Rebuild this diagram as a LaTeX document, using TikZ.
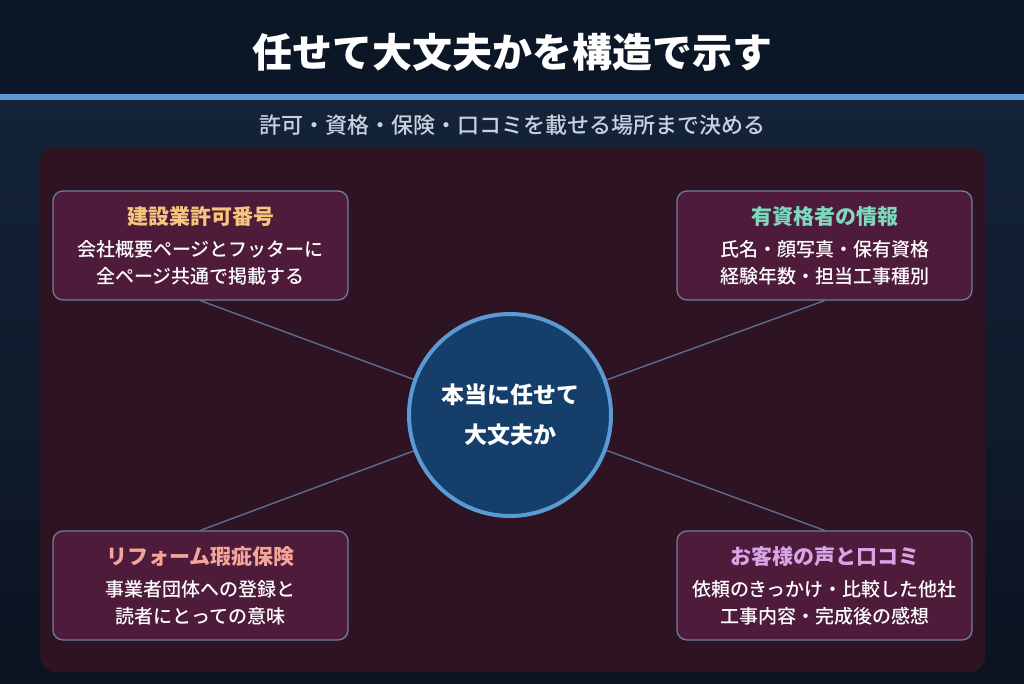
\documentclass[tikz,border=0pt]{standalone}
\usepackage{fontspec}
\setmainfont{Noto Sans CJK JP}
\newfontfamily\medfont{Noto Sans CJK JP Medium}
\usetikzlibrary{backgrounds}
\pgfdeclarelayer{lines}
\pgfsetlayers{background,lines,main}
\definecolor{hdr}{HTML}{0B1626}
\definecolor{stripe}{HTML}{5B9BD5}
\definecolor{bgtop}{HTML}{142339}
\definecolor{bgbot}{HTML}{0B1320}
\definecolor{panel}{HTML}{2E1423}
\definecolor{boxfill}{HTML}{4F1B3B}
\definecolor{boxline}{HTML}{6E7E9A}
\definecolor{conn}{HTML}{5A6F90}
\definecolor{hubfill}{HTML}{163E6B}
\definecolor{subtxt}{HTML}{C7D2DE}
\definecolor{torange}{HTML}{F6C57E}
\definecolor{tteal}{HTML}{7ED8BE}
\definecolor{tsalmon}{HTML}{F4A599}
\definecolor{tlav}{HTML}{D6A5E6}
\tikzset{
  infobox/.style={draw=boxline, line width=1.3pt, fill=boxfill, rounded corners=10pt,
    minimum width=295pt, minimum height=109pt, align=center, text=white,
    font=\medfont\fontsize{19}{27}\selectfont, inner sep=0pt},
  hub/.style={circle, draw=stripe, line width=4pt, fill=hubfill, minimum size=202pt,
    align=center, text=white, font=\bfseries\fontsize{23}{40}\selectfont, inner sep=0pt},
  connector/.style={draw=conn, line width=1.4pt},
}
\newcommand{\btitle}[2]{{\normalfont\bfseries\fontsize{21}{21}\selectfont\color{#1}#2}\\[5pt]}
\begin{document}
\begin{tikzpicture}[x=1pt,y=-1pt]
\useasboundingbox (0,0) rectangle (1024,683);
\begin{pgfonlayer}{background}
  \shade[top color=bgtop, bottom color=bgbot] (0,99) rectangle (1024,683);
  \fill[hdr] (0,0) rectangle (1024,94);
  \fill[stripe] (0,94) rectangle (1024,100);
  \fill[panel, rounded corners=16pt] (40,147) rectangle (985,672);
\end{pgfonlayer}
\node[text=white, font=\bfseries\fontsize{40}{40}\selectfont] (title) at (512,52) {任せて大文夫かを構造で示す};
\node[text=subtxt, font=\medfont\fontsize{22}{22}\selectfont] (subtitle) at (512,125) {許可・資格・保険・口コミを載せる場所まで決める};
\node[hub] (hub) at (510,415) {本当に任せて\\大文夫か};
\node[infobox] (tl) at (200.5,245.5) {\btitle{torange}{建設業許可番号}会社概要ページとフッターに\\全ページ共通で掲載する};
\node[infobox] (tr) at (824.5,245.5) {\btitle{tteal}{有資格者の情報}氏名・顔写真・保有資格\\経験年数・担当工事種別};
\node[infobox] (bl) at (200.5,585.5) {\btitle{tsalmon}{リフォーム瑕疵保険}事業者団体への登録と\\読者にとっての意味};
\node[infobox] (br) at (824.5,585.5) {\btitle{tlav}{お客様の声と口コミ}依頼のきっかけ・比較した他社\\工事内容・完成後の感想};
\begin{pgfonlayer}{lines}
  \draw[connector] (hub.center) -- (tl.south);
  \draw[connector] (hub.center) -- (tr.south);
  \draw[connector] (hub.center) -- (bl.north);
  \draw[connector] (hub.center) -- (br.north);
\end{pgfonlayer}
\end{tikzpicture}
\end{document}
